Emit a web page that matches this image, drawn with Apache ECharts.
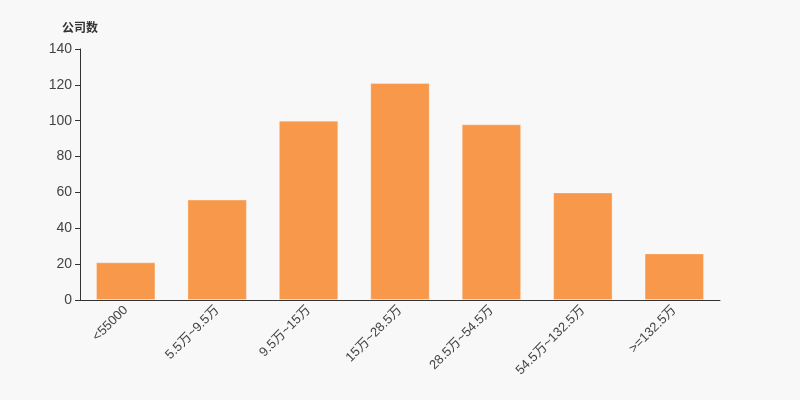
<!DOCTYPE html>
<html>
<head>
<meta charset="utf-8">
<script src="https://cdn.jsdelivr.net/npm/echarts@6/dist/echarts.min.js"></script>
<style>
  html, body { margin: 0; padding: 0; background: #f8f8f8; }
  #chart { width: 800px; height: 400px; }
</style>
</head>
<body>
<div id="chart"></div>
<script>
const categories = ['<55000', '5.5万~9.5万', '9.5万~15万', '15万~28.5万', '28.5万~54.5万', '54.5万~132.5万', '>=132.5万'];
const companyCounts = [21, 56, 100, 121, 98, 60, 26];

const chart = echarts.init(document.getElementById('chart'));
chart.setOption({
  backgroundColor: '#f8f8f8',
  textStyle: { fontFamily: 'Arial, "Liberation Sans", "Noto Sans CJK SC", sans-serif' },
  grid: { left: 80, right: 80, top: 49, bottom: 100 },
  xAxis: {
    type: 'category',
    data: categories,
    axisLine: { lineStyle: { color: '#333' } },
    axisTick: { lineStyle: { color: '#333' } },
    axisLabel: { rotate: 45, color: '#444', fontSize: 13, interval: 0 }
  },
  yAxis: {
    type: 'value',
    name: '公司数',
    nameGap: 14,
    nameTextStyle: { color: '#333', fontWeight: 'bold', fontSize: 12, align: 'center' },
    min: 0,
    max: 140,
    interval: 20,
    axisLine: { show: true, lineStyle: { color: '#333' } },
    axisTick: { show: true, lineStyle: { color: '#333' } },
    axisLabel: { color: '#444', fontSize: 14 },
    splitLine: { show: false }
  },
  series: [{
    type: 'bar',
    data: companyCounts,
    barWidth: '65%',
    itemStyle: { color: '#f7984a', borderColor: 'rgba(255,255,255,0.3)', borderWidth: 1 }
  }]
});
</script>
</body>
</html>
